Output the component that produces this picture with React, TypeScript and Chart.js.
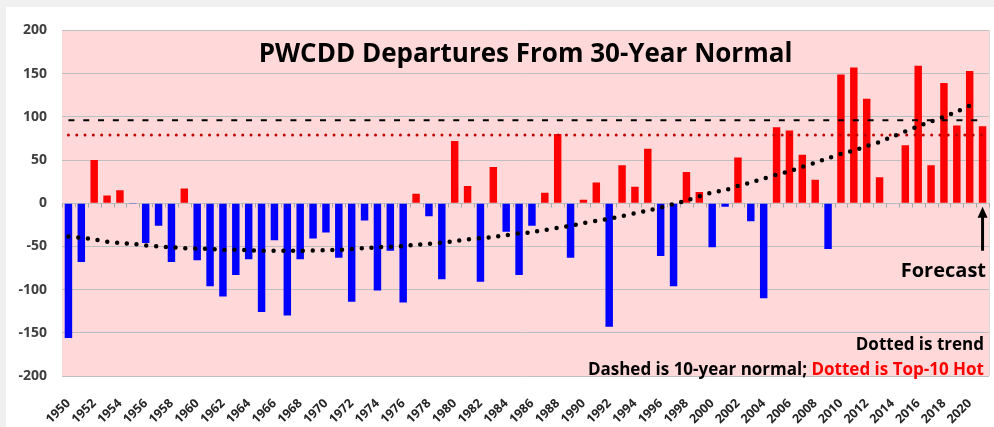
import React, { useEffect, useRef } from "react";
import { Chart, registerables } from "chart.js";

Chart.register(...registerables);

const years = [
  "1950", "1951", "1952", "1953", "1954", "1955", "1956", "1957", "1958", "1959",
  "1960", "1961", "1962", "1963", "1964", "1965", "1966", "1967", "1968", "1969",
  "1970", "1971", "1972", "1973", "1974", "1975", "1976", "1977", "1978", "1979",
  "1980", "1981", "1982", "1983", "1984", "1985", "1986", "1987", "1988", "1989",
  "1990", "1991", "1992", "1993", "1994", "1995", "1996", "1997", "1998", "1999",
  "2000", "2001", "2002", "2003", "2004", "2005", "2006", "2007", "2008", "2009",
  "2010", "2011", "2012", "2013", "2014", "2015", "2016", "2017", "2018", "2019",
  "2020", "2021",
];

const departures = [
  -156, -68, 50, 9, 15, -1, -46, -26, -68, 17,
  -66, -96, -108, -83, -65, -126, -43, -130, -65, -41,
  -34, -63, -114, -20, -101, -55, -115, 11, -15, -88,
  72, 20, -91, 42, -33, -83, -26, 12, 80, -63,
  4, 24, -143, 44, 19, 63, -61, -96, 36, 13,
  -51, -4, 53, -21, -110, 88, 84, 56, 27, -53,
  149, 157, 121, 30, 0, 67, 159, 44, 139, 90,
  153, 89,
];

const trend = [
  -38.5, -40, -42, -44.5, -46, -47, -49, -50, -51, -52,
  -52.5, -53, -54, -54, -54.5, -55, -55, -55, -55, -54.6,
  -54.3, -54, -53, -52, -51, -50.5, -49.5, -48, -47, -45.5,
  -44, -42, -40.5, -39, -37, -35, -33.5, -31, -28.5, -26,
  -23, -20.5, -18, -15, -11.5, -8.5, -5, -1, 3, 8,
  12.5, 15, 20, 24, 28.5, 33, 37, 42, 47, 52,
  57, 61, 66, 71, 77, 83, 89, 94.5, 100, 106,
  113, null,
];

const tenYearNormal = 96;
const top10Hot = 79;
const yMin = -200;
const yMax = 200;
const yStep = 50;
const forecastFrom = -55;
const forecastTo = -4;

const titleText = "PWCDD Departures From 30-Year Normal";
const forecastText = "Forecast";
const noteTrend = "Dotted is trend";
const noteDashed = "Dashed is 10-year normal; ";
const noteHot = "Dotted is Top-10 Hot";

const FONT = '"Open Sans", "Noto Sans", sans-serif';

const decor = {
  id: "decor",
  beforeDraw(chart: any) {
    const { ctx, chartArea: a } = chart;
    ctx.save();
    ctx.fillStyle = "#FFD9D9";
    ctx.fillRect(a.left, a.top, a.right - a.left, a.bottom - a.top);
    ctx.strokeStyle = "#D9D9D9";
    ctx.lineWidth = 1;
    ctx.beginPath();
    ctx.moveTo(Math.round(a.right) + 0.5, a.top);
    ctx.lineTo(Math.round(a.right) + 0.5, a.bottom);
    ctx.stroke();
    ctx.restore();
  },
  beforeDatasetsDraw(chart: any) {
    const { ctx } = chart;
    const xs = chart.scales.x;
    const ys = chart.scales.y;
    const y0 = Math.round(ys.getPixelForValue(0)) + 0.5;
    ctx.save();
    ctx.strokeStyle = "#A6A6A6";
    ctx.lineWidth = 1;
    ctx.beginPath();
    for (let i = 0; i <= years.length; i++) {
      const px = Math.round(xs.getPixelForValue(i - 0.5)) + 0.5;
      ctx.moveTo(px, y0);
      ctx.lineTo(px, y0 + 4);
    }
    ctx.stroke();
    ctx.restore();
  },
  afterDatasetsDraw(chart: any) {
    const { ctx, chartArea: a } = chart;
    const xs = chart.scales.x;
    const ys = chart.scales.y;
    ctx.save();
    // title
    ctx.fillStyle = "#000000";
    ctx.font = `bold 26px ${FONT}`;
    ctx.textAlign = "center";
    ctx.textBaseline = "alphabetic";
    ctx.fillText(titleText, (a.left + a.right) / 2, a.top + 32);

    // forecast arrow
    const ax = xs.getPixelForValue(years.length - 1);
    const yTail = ys.getPixelForValue(forecastFrom);
    const yTip = ys.getPixelForValue(forecastTo);
    ctx.strokeStyle = "#000000";
    ctx.lineWidth = 3;
    ctx.beginPath();
    ctx.moveTo(ax, yTail);
    ctx.lineTo(ax, yTip + 9);
    ctx.stroke();
    ctx.beginPath();
    ctx.moveTo(ax, yTip);
    ctx.lineTo(ax - 5, yTip + 11);
    ctx.lineTo(ax + 5, yTip + 11);
    ctx.closePath();
    ctx.fill();

    // forecast label
    ctx.font = `bold 20px ${FONT}`;
    ctx.textAlign = "right";
    ctx.fillText(forecastText, a.right - 3, a.top + 247);

    // notes
    ctx.font = `bold 17px ${FONT}`;
    ctx.fillText(noteTrend, a.right - 5, a.top + 320);
    const hotW = ctx.measureText(noteHot).width;
    ctx.fillStyle = "#FF0000";
    ctx.fillText(noteHot, a.right - 5, a.top + 345);
    ctx.fillStyle = "#000000";
    ctx.fillText(noteDashed, a.right - 5 - hotW, a.top + 345);
    ctx.restore();
  },
};

export default function App() {
  const canvasRef = useRef<HTMLCanvasElement | null>(null);

  useEffect(() => {
    const canvas = canvasRef.current;
    if (!canvas) return;
    const chart = new Chart(canvas, {
      type: "bar",
      data: {
        labels: years,
        datasets: [
          {
            type: "line",
            label: "Trend",
            data: trend,
            borderColor: "#000000",
            borderWidth: 4.5,
            borderDash: [0, 9.8],
            borderCapStyle: "round",
            pointRadius: 0,
            tension: 0.3,
            fill: false,
            order: 1,
          } as any,
          {
            type: "line",
            label: "10-year normal",
            data: years.map(() => tenYearNormal),
            borderColor: "#000000",
            borderWidth: 2,
            borderDash: [6, 8.8],
            pointRadius: 0,
            fill: false,
            order: 2,
          } as any,
          {
            type: "line",
            label: "Top-10 Hot",
            data: years.map(() => top10Hot),
            borderColor: "#C00000",
            borderWidth: 3,
            borderDash: [0, 8.3],
            borderCapStyle: "round",
            pointRadius: 0,
            fill: false,
            order: 3,
          } as any,
          {
            type: "bar",
            label: "Departure",
            data: departures,
            backgroundColor: departures.map((v) => (v >= 0 ? "#FF0000" : "#0000FF")),
            barPercentage: 0.58,
            categoryPercentage: 1,
            order: 4,
          },
        ],
      },
      options: {
        responsive: false,
        animation: false,
        layout: { padding: { top: 21, right: 5, left: 0, bottom: 0 } },
        plugins: {
          legend: { display: false },
          tooltip: { enabled: false },
          title: { display: false },
        },
        scales: {
          x: {
            offset: true,
            grid: { display: false, drawTicks: true, tickLength: 12 },
            border: { display: false },
            ticks: {
              autoSkip: false,
              maxRotation: 45,
              minRotation: 45,
              padding: 8,
              color: "#262626",
              font: { family: FONT, size: 12.5, weight: "bold" },
              callback: (_v: any, i: number) => (i % 2 === 0 ? years[i] : null),
            },
            afterFit: (s: any) => {
              s.height = 51;
            },
          },
          y: {
            min: yMin,
            max: yMax,
            grid: { color: "#BFBFBF", drawTicks: false, lineWidth: 1 },
            border: { display: false },
            ticks: {
              stepSize: yStep,
              padding: 15,
              color: "#404040",
              font: { family: FONT, size: 14, weight: "bold" },
            },
            afterFit: (s: any) => {
              s.width = 56;
            },
          },
        },
      },
      plugins: [decor],
    });
    return () => chart.destroy();
  }, []);

  return (
    <div
      style={{
        position: "fixed",
        left: 0,
        top: 0,
        width: 994,
        height: 427,
        background: "#F0F0F0",
        overflow: "hidden",
      }}
    >
      <div
        style={{
          position: "absolute",
          left: 6,
          top: 7,
          width: 988,
          height: 420,
          background: "#FFFFFF",
        }}
      >
        <canvas ref={canvasRef} width={988} height={420} style={{ display: "block" }} />
      </div>
    </div>
  );
}
